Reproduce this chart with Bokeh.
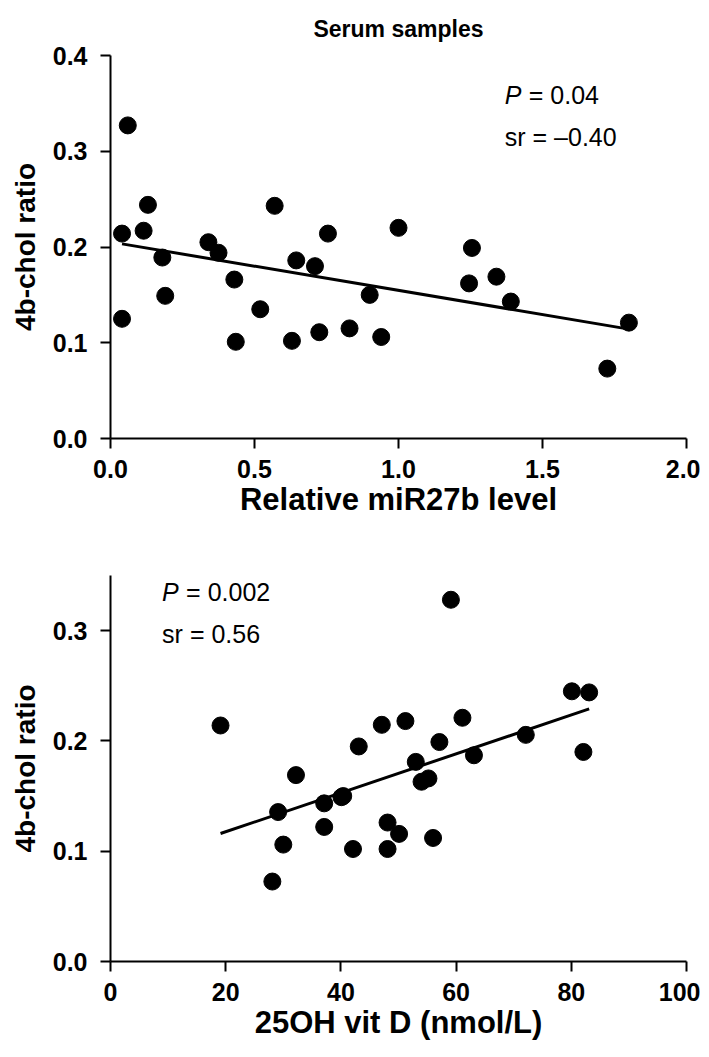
from bokeh.plotting import figure
from bokeh.layouts import column
from bokeh.models import Range1d, FixedTicker, NumeralTickFormatter, Label
from bokeh.embed import file_html
from bokeh.resources import INLINE

# ---------------- data ----------------
mir27b_level = [0.04, 0.06, 0.04, 0.13, 0.115, 0.18, 0.19, 0.34, 0.375, 0.43, 0.435,
                0.52, 0.57, 0.645, 0.63, 0.71, 0.725, 0.755, 0.83, 0.90, 0.94, 1.00,
                1.255, 1.245, 1.34, 1.39, 1.80, 1.725]
chol_ratio_a = [0.214, 0.327, 0.125, 0.244, 0.217, 0.189, 0.149, 0.205, 0.194, 0.166, 0.101,
                0.135, 0.243, 0.186, 0.102, 0.180, 0.111, 0.214, 0.115, 0.150, 0.106, 0.220,
                0.199, 0.162, 0.169, 0.143, 0.121, 0.073]

vitd_nmol = [19.1, 59.1, 80.1, 83.1, 51.2, 61.1, 57.1, 72.1, 82.1, 47.1, 43.1, 29.1, 32.2,
             30.0, 28.1, 37.1, 37.1, 40.1, 40.4, 42.1, 48.1, 48.1, 50.1, 53.0, 63.1, 54.0,
             55.2, 56.0]
chol_ratio_b = [0.214, 0.328, 0.245, 0.244, 0.218, 0.221, 0.199, 0.2055, 0.190, 0.2146, 0.195,
                0.1355, 0.169, 0.106, 0.0725, 0.1434, 0.122, 0.149, 0.150, 0.102, 0.126, 0.102,
                0.1157, 0.181, 0.187, 0.163, 0.166, 0.112]

x_ticks_a = [0.0, 0.5, 1.0, 1.5, 2.0]
y_ticks_a = [0.0, 0.1, 0.2, 0.3, 0.4]
x_ticks_b = [0, 20, 40, 60, 80, 100]
y_ticks_b = [0.0, 0.1, 0.2, 0.3]

fit_a = {"intercept": 0.2053, "slope": -0.0506}
fit_b = {"intercept": 0.0823, "slope": 0.001766}

title_text = "Serum samples"
stats_a = ["P", "= 0.04", "sr = \u20130.40"]
stats_b = ["P", "= 0.002", "sr = 0.56"]

FONT = "Liberation Sans"


def style(p, xt, yt, xlabel, ylabel, xfmt):
    p.xgrid.grid_line_color = None
    p.ygrid.grid_line_color = None
    p.outline_line_color = None
    p.background_fill_color = "white"
    p.border_fill_color = "white"
    p.xaxis.ticker = FixedTicker(ticks=xt)
    p.yaxis.ticker = FixedTicker(ticks=yt)
    p.yaxis.formatter = NumeralTickFormatter(format="0.0")
    if xfmt:
        p.xaxis.formatter = NumeralTickFormatter(format=xfmt)
    p.xaxis.axis_label = xlabel
    p.yaxis.axis_label = ylabel
    for ax in (p.xaxis[0], p.yaxis[0]):
        ax.axis_line_width = 2
        ax.axis_line_color = "black"
        ax.major_tick_line_width = 2
        ax.major_tick_line_color = "black"
        ax.major_tick_out = 10
        ax.major_tick_in = 0
        ax.minor_tick_line_color = None
        ax.major_label_text_font = FONT
        ax.major_label_text_font_style = "bold"
        ax.major_label_text_font_size = "25px"
        ax.major_label_text_color = "black"
        ax.axis_label_text_font = FONT
        ax.axis_label_text_font_style = "bold"
        ax.axis_label_text_color = "black"
    p.xaxis.major_label_standoff = 11
    p.xaxis.axis_label_standoff = 1
    p.xaxis.axis_label_text_font_size = "31px"
    p.yaxis.major_label_standoff = 13
    p.yaxis.axis_label_standoff = 9
    p.yaxis.axis_label_text_font_size = "28px"


def stats(p, x, y1, y2, texts):
    p.add_layout(Label(x=x, y=y1, text=texts[0], text_font=FONT, text_font_style="italic",
                       text_font_size="25px", text_baseline="middle", text_color="black"))
    p.add_layout(Label(x=x, y=y1, x_offset=24, text=texts[1], text_font=FONT,
                       text_font_size="25px", text_baseline="middle", text_color="black"))
    p.add_layout(Label(x=x, y=y2, text=texts[2], text_font=FONT,
                       text_font_size="25px", text_baseline="middle", text_color="black"))


# ---------------- top panel ----------------
p1 = figure(width=700, height=540, output_backend="svg", toolbar_location=None,
            x_range=Range1d(0, 2.0), y_range=Range1d(0, 0.4),
            min_border_left=110, min_border_right=14, min_border_top=55, min_border_bottom=102)
p1.title.text = title_text
p1.title.align = "center"
p1.title.text_font = FONT
p1.title.text_font_style = "bold"
p1.title.text_font_size = "23px"
p1.title.text_line_height = 0.6
p1.title.text_color = "black"
p1.title.standoff = 27
style(p1, x_ticks_a, y_ticks_a, "Relative miR27b level", "4b-chol ratio", "0.0")

xa0, xa1 = min(mir27b_level), max(mir27b_level)
p1.line([xa0, xa1], [fit_a["intercept"] + fit_a["slope"] * xa0, fit_a["intercept"] + fit_a["slope"] * xa1],
        line_color="black", line_width=3)
p1.scatter(mir27b_level, chol_ratio_a, size=17, color="black")
stats(p1, 1.369, 0.359, 0.315, stats_a)

# ---------------- bottom panel ----------------
p2 = figure(width=700, height=515, output_backend="svg", toolbar_location=None,
            x_range=Range1d(0, 100), y_range=Range1d(0, 0.35),
            min_border_left=110, min_border_right=14, min_border_top=35, min_border_bottom=94)
style(p2, x_ticks_b, y_ticks_b, "25OH vit D (nmol/L)", "4b-chol ratio", None)

xb0, xb1 = min(vitd_nmol), max(vitd_nmol)
p2.line([xb0, xb1], [fit_b["intercept"] + fit_b["slope"] * xb0, fit_b["intercept"] + fit_b["slope"] * xb1],
        line_color="black", line_width=3)
p2.scatter(vitd_nmol, chol_ratio_b, size=17, color="black")
stats(p2, 8.96, 0.335, 0.297, stats_b)

layout = column(p1, p2, spacing=0)
open("out.html", "w").write(file_html(layout, INLINE))
